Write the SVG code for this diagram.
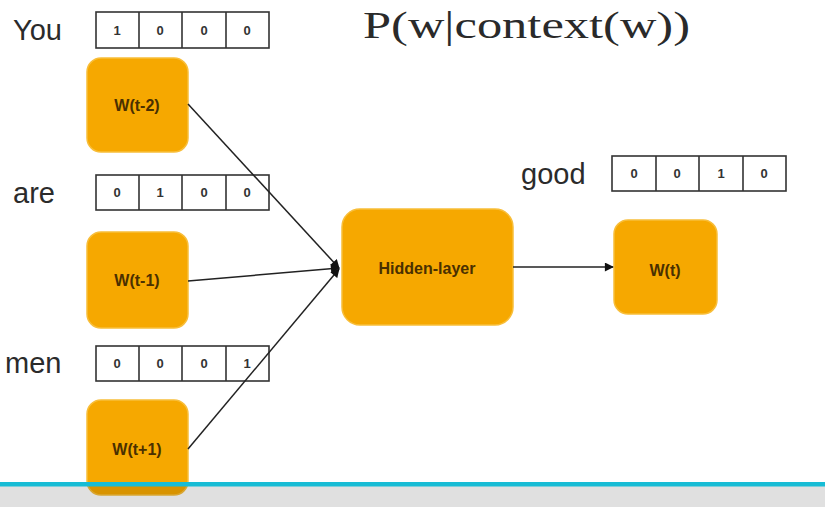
<svg xmlns="http://www.w3.org/2000/svg" width="825" height="507" viewBox="0 0 825 507">
<style>
.lbl{font-family:"Liberation Sans",Arial,sans-serif;font-size:29px;fill:#2b2b2b}
.node{fill:#F6A800;stroke:#F8BE3A;stroke-width:1.5}
.ntxt{font-family:"Liberation Sans",Arial,sans-serif;font-size:16px;font-weight:bold;fill:#4a3000;text-anchor:middle;dominant-baseline:central}
.vec{fill:#fff;stroke:#333;stroke-width:1.6}
.cell{stroke:#333;stroke-width:1.6}
.dig{font-family:"Liberation Sans",Arial,sans-serif;font-size:13px;font-weight:bold;fill:#333;text-anchor:middle;dominant-baseline:central}
.conn{stroke:#222;stroke-width:1.5;fill:none}
</style>
<defs>
<marker id="ah" viewBox="0 0 10 10" refX="9" refY="5" markerWidth="10" markerHeight="9" orient="auto" markerUnits="userSpaceOnUse">
<path d="M0,0 L10,5 L0,10 z" fill="#111"/>
</marker>
</defs>
<rect width="825" height="507" fill="#fff"/>
<text x="363" y="38" font-family="'Liberation Serif','Times New Roman',serif" font-size="37" fill="#2a2a2a" textLength="327" lengthAdjust="spacingAndGlyphs">P(w|context(w))</text>

<g id="you-label"><text class="lbl" x="13" y="40">You</text></g>
<g id="you-vec">
<rect class="vec" x="96" y="12" width="173" height="36"/>
<line class="cell" x1="139" y1="12" x2="139" y2="48"/><line class="cell" x1="182" y1="12" x2="182" y2="48"/><line class="cell" x1="226" y1="12" x2="226" y2="48"/>
<text class="dig" x="117" y="30">1</text><text class="dig" x="160" y="30">0</text><text class="dig" x="204" y="30">0</text><text class="dig" x="247" y="30">0</text>
</g>
<g id="are-label"><text class="lbl" x="13" y="203">are</text></g>
<g id="are-vec">
<rect class="vec" x="96" y="175" width="173" height="35"/>
<line class="cell" x1="139" y1="175" x2="139" y2="210"/><line class="cell" x1="182" y1="175" x2="182" y2="210"/><line class="cell" x1="226" y1="175" x2="226" y2="210"/>
<text class="dig" x="117" y="192">0</text><text class="dig" x="160" y="192">1</text><text class="dig" x="204" y="192">0</text><text class="dig" x="247" y="192">0</text>
</g>
<g id="men-label"><text class="lbl" x="5" y="373">men</text></g>
<g id="men-vec">
<rect class="vec" x="96" y="346" width="173" height="35"/>
<line class="cell" x1="139" y1="346" x2="139" y2="381"/><line class="cell" x1="182" y1="346" x2="182" y2="381"/><line class="cell" x1="226" y1="346" x2="226" y2="381"/>
<text class="dig" x="117" y="363">0</text><text class="dig" x="160" y="363">0</text><text class="dig" x="204" y="363">0</text><text class="dig" x="247" y="363">1</text>
</g>
<g id="good-label"><text class="lbl" x="521" y="184">good</text></g>
<g id="good-vec">
<rect class="vec" x="612" y="156" width="174" height="35"/>
<line class="cell" x1="656" y1="156" x2="656" y2="191"/><line class="cell" x1="699" y1="156" x2="699" y2="191"/><line class="cell" x1="743" y1="156" x2="743" y2="191"/>
<text class="dig" x="634" y="173">0</text><text class="dig" x="677" y="173">0</text><text class="dig" x="721" y="173">1</text><text class="dig" x="764" y="173">0</text>
</g>

<g id="w-t-2"><rect class="node" x="87" y="58" width="101" height="94" rx="14"/><text class="ntxt" x="137" y="105">W(t-2)</text></g>
<g id="w-t-1"><rect class="node" x="87" y="232" width="101" height="96" rx="14"/><text class="ntxt" x="137" y="280">W(t-1)</text></g>
<g id="w-t+1"><rect class="node" x="87" y="400" width="101" height="95" rx="14"/><text class="ntxt" x="137" y="449">W(t+1)</text></g>
<g id="hidden"><rect class="node" x="342" y="209" width="171" height="116" rx="18"/><text class="ntxt" x="427" y="268">Hidden-layer</text></g>
<g id="w-t"><rect class="node" x="614" y="220" width="103" height="94" rx="14"/><text class="ntxt" x="665" y="270">W(t)</text></g>

<g id="connectors">
<line class="conn" x1="188" y1="104" x2="339" y2="268" marker-end="url(#ah)"/>
<line class="conn" x1="188" y1="281" x2="339" y2="268" marker-end="url(#ah)"/>
<line class="conn" x1="188" y1="449" x2="339" y2="269" marker-end="url(#ah)"/>
<line class="conn" x1="513" y1="267" x2="613" y2="267" marker-end="url(#ah)"/>
</g>

<rect x="0" y="486" width="825" height="21" fill="#000" fill-opacity="0.12"/>
<rect x="0" y="482" width="825" height="4.5" fill="#17BCD5"/>
</svg>
